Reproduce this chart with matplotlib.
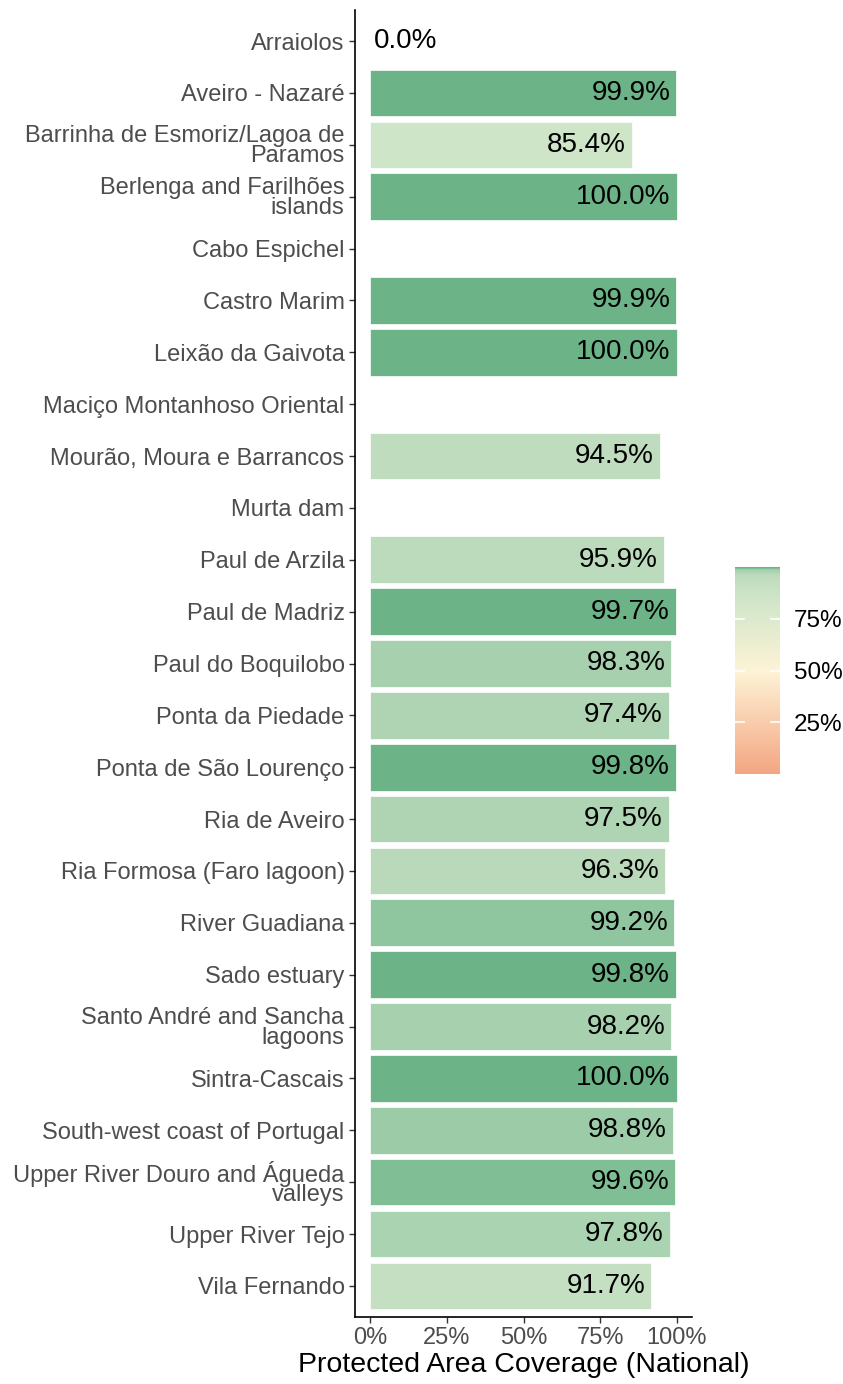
import numpy as np
import matplotlib.pyplot as plt
from matplotlib.colors import LinearSegmentedColormap, Normalize
from matplotlib.cm import ScalarMappable

plt.rcParams['font.family'] = ['Liberation Sans', 'DejaVu Sans']

SITES = [
    'Arraiolos',
    'Aveiro - Nazaré',
    'Barrinha de Esmoriz/Lagoa de\nParamos',
    'Berlenga and Farilhões\nislands',
    'Cabo Espichel',
    'Castro Marim',
    'Leixão da Gaivota',
    'Maciço Montanhoso Oriental',
    'Mourão, Moura e Barrancos',
    'Murta dam',
    'Paul de Arzila',
    'Paul de Madriz',
    'Paul do Boquilobo',
    'Ponta da Piedade',
    'Ponta de São Lourenço',
    'Ria de Aveiro',
    'Ria Formosa (Faro lagoon)',
    'River Guadiana',
    'Sado estuary',
    'Santo André and Sancha\nlagoons',
    'Sintra-Cascais',
    'South-west coast of Portugal',
    'Upper River Douro and Águeda\nvalleys',
    'Upper River Tejo',
    'Vila Fernando',
]
COVERAGE = [0.0, 99.9, 85.4, 100.0, np.nan, 99.9, 100.0, np.nan, 94.5, np.nan,
            95.9, 99.7, 98.3, 97.4, 99.8, 97.5, 96.3, 99.2, 99.8, 98.2,
            100.0, 98.8, 99.6, 97.8, 91.7]

# colour scale: salmon -> cream -> pale green -> green, squeezed at the top
CMAP_POS = [0.0, 0.5, 0.85, 0.96, 0.985, 0.995, 1.0]
CMAP_COL = ['#f4a582', '#fdf3d6', '#cfe5c8', '#bddbbd', '#a6d1ae', '#86c299', '#6cb387']


def main():
    cmap = LinearSegmentedColormap.from_list('cov', list(zip(CMAP_POS, CMAP_COL)))
    norm = Normalize(0, 100)

    W, H = 843, 1384
    fig = plt.figure(figsize=(W / 100, H / 100), dpi=100)
    ax = fig.add_axes([355 / W, (H - 1317) / H, (692 - 355) / W, (1317 - 10) / H])

    y = np.arange(len(SITES))
    vals = np.array(COVERAGE)
    ok = ~np.isnan(vals)
    ax.barh(y[ok], vals[ok], height=0.9, color=cmap(norm(vals[ok])),
            edgecolor='white', linewidth=0.5)

    for yi, v in zip(y[ok], vals[ok]):
        if v > 0:
            ax.text(v - 2.0, yi, f'{v:.1f}%', ha='right', va='center',
                    fontsize=20, color='black')
        else:
            ax.text(v + 1.0, yi, f'{v:.1f}%', ha='left', va='center',
                    fontsize=20, color='black')

    ax.set_ylim(len(SITES) - 0.4, -0.6)
    ax.set_xlim(-5, 105)
    ax.set_yticks(y)
    ax.set_yticklabels(SITES, fontsize=17, color='#4d4d4d', linespacing=0.85)
    ax.set_xticks([0, 25, 50, 75, 100])
    ax.set_xticklabels(['0%', '25%', '50%', '75%', '100%'], fontsize=17, color='#4d4d4d')
    ax.tick_params(axis='both', length=4, width=1, color='#333333')
    ax.set_xlabel('Protected Area Coverage (National)', fontsize=20.5, labelpad=2)
    for s in ['top', 'right']:
        ax.spines[s].set_visible(False)
    for s in ['left', 'bottom']:
        ax.spines[s].set_linewidth(1.2)

    # colour bar legend
    cax = fig.add_axes([735 / W, (H - 774) / H, 45 / W, (774 - 567) / H])
    sm = ScalarMappable(norm=norm, cmap=cmap)
    cb = fig.colorbar(sm, cax=cax, ticks=[25, 50, 75])
    cb.outline.set_visible(False)
    cb.ax.set_yticklabels(['25%', '50%', '75%'], fontsize=17.5, color='black')
    cb.ax.tick_params(length=0, pad=10)
    for t in [25, 50, 75]:
        cax.plot([0, 0.2], [t, t], color='white', lw=1.2, transform=cax.get_yaxis_transform())
        cax.plot([0.8, 1], [t, t], color='white', lw=1.2, transform=cax.get_yaxis_transform())

    fig.savefig('out.png', dpi=100)


if __name__ == '__main__':
    main()
